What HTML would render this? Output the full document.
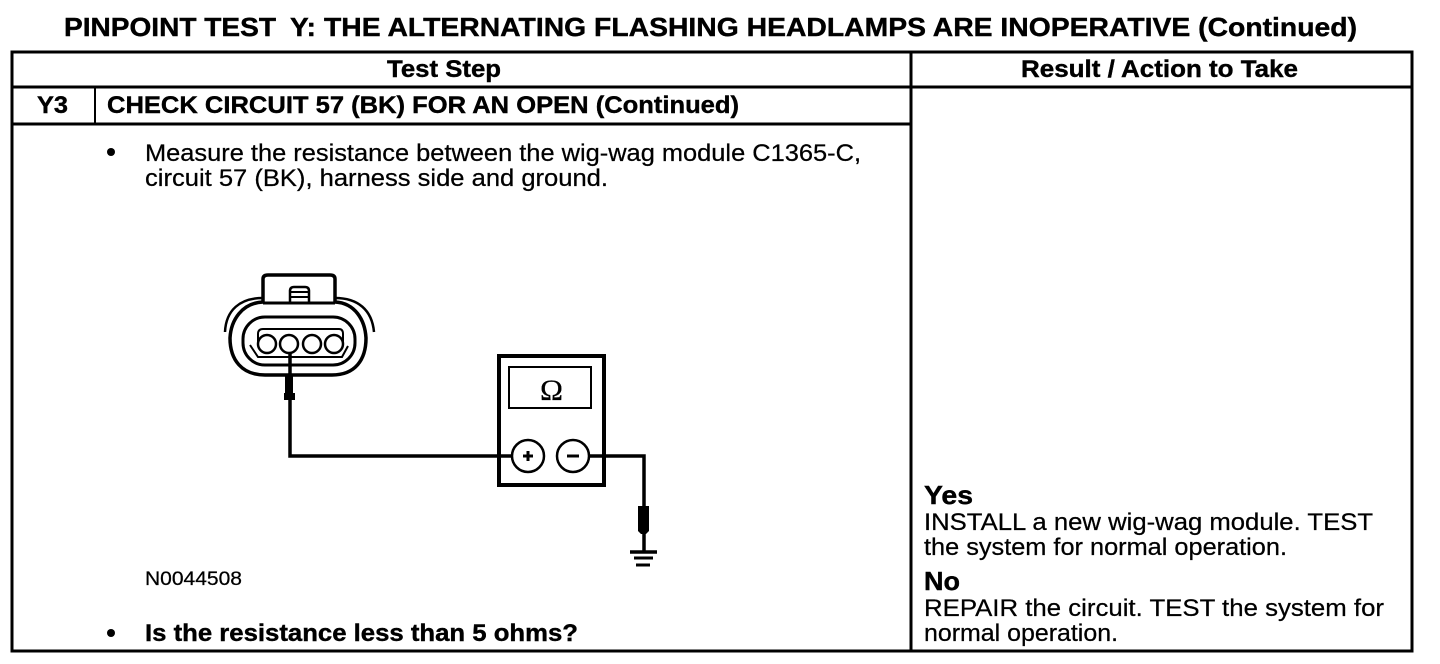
<!DOCTYPE html>
<html><head><meta charset="utf-8"><style>
html,body{margin:0;padding:0;background:#fff;width:1440px;height:664px;overflow:hidden}
svg{display:block}
text{font-family:"Liberation Sans",sans-serif;fill:#000;stroke:#000;stroke-width:.25}
.b{font-weight:bold;font-size:24px;stroke-width:.4}
.n{font-size:24px}
</style></head><body>
<svg width="1440" height="664" viewBox="0 0 1440 664" xmlns="http://www.w3.org/2000/svg">
<text class="b" x="64" y="36" style="font-size:26px" textLength="212" lengthAdjust="spacingAndGlyphs">PINPOINT TEST</text>
<text class="b" x="290" y="36" style="font-size:26px" textLength="26" lengthAdjust="spacingAndGlyphs">Y:</text>
<text class="b" x="324" y="36" style="font-size:26px" textLength="1033" lengthAdjust="spacingAndGlyphs">THE ALTERNATING FLASHING HEADLAMPS ARE INOPERATIVE (Continued)</text>
<g fill="none" stroke="#000">
<rect x="12" y="52" width="1400" height="599" stroke-width="3"/>
<path d="M12 87H1412M12 124H911" stroke-width="3"/>
<path d="M911 52V651" stroke-width="3"/>
<path d="M95 87V124" stroke-width="2"/>
</g>
<text class="b" x="387" y="77" textLength="114" lengthAdjust="spacingAndGlyphs">Test Step</text>
<text class="b" x="1021" y="77" textLength="277" lengthAdjust="spacingAndGlyphs">Result / Action to Take</text>
<text class="b" x="37" y="113" textLength="31" lengthAdjust="spacingAndGlyphs">Y3</text>
<text class="b" x="107" y="113" textLength="632" lengthAdjust="spacingAndGlyphs">CHECK CIRCUIT 57 (BK) FOR AN OPEN (Continued)</text>
<circle cx="111" cy="152" r="4"/>
<text class="n" x="145" y="161" textLength="716" lengthAdjust="spacingAndGlyphs">Measure the resistance between the wig-wag module C1365-C,</text>
<text class="n" x="145" y="186" textLength="463" lengthAdjust="spacingAndGlyphs">circuit 57 (BK), harness side and ground.</text>
<text x="145" y="585" style="font-size:19px" textLength="97" lengthAdjust="spacingAndGlyphs">N0044508</text>
<circle cx="111" cy="633" r="4"/>
<text class="b" x="145" y="641" textLength="433" lengthAdjust="spacingAndGlyphs">Is the resistance less than 5 ohms?</text>
<text class="b" x="924" y="504" style="font-size:26px" textLength="49" lengthAdjust="spacingAndGlyphs">Yes</text>
<text class="n" x="924" y="530" textLength="449" lengthAdjust="spacingAndGlyphs">INSTALL a new wig-wag module. TEST</text>
<text class="n" x="924" y="555" textLength="363" lengthAdjust="spacingAndGlyphs">the system for normal operation.</text>
<text class="b" x="924" y="590" style="font-size:26px" textLength="36" lengthAdjust="spacingAndGlyphs">No</text>
<text class="n" x="924" y="616" textLength="460" lengthAdjust="spacingAndGlyphs">REPAIR the circuit. TEST the system for</text>
<text class="n" x="924" y="641" textLength="194" lengthAdjust="spacingAndGlyphs">normal operation.</text>

<!-- connector -->
<g fill="none" stroke="#000">
<path d="M263 303V279Q263 275 268 275H330Q335 275 335 279V303" stroke-width="3.5"/>
<path d="M263 303H335" stroke-width="3"/>
<path d="M290 303V291Q290 287 294 287H305Q309 287 309 291V303" stroke-width="2.5"/>
<path d="M291 292H308M291 297H308" stroke-width="2"/>
<path d="M263 302C242 303 231 320 230 338C230 360 242 375 265 375H332C355 375 366 360 366 338C365 320 355 303 335 302" stroke-width="3.5"/>
<path d="M263 298C240 298 226 310 225 332" stroke-width="2.5"/>
<path d="M335 298C358 298 372 310 374 332" stroke-width="2.5"/>
<rect x="243" y="317" width="112" height="48" rx="22" stroke-width="3"/>
<path d="M258 344V334Q258 329 263 329H339Q343 329 343 334V344" stroke-width="2"/>
<path d="M250 345L258 357H342L348 346" stroke-width="2"/>
<g fill="#fff" stroke-width="2.5">
<circle cx="267" cy="344" r="9"/><circle cx="289" cy="344" r="9"/><circle cx="312" cy="344" r="9"/><circle cx="334" cy="344" r="9"/>
</g>
<path d="M290 353V456H512" stroke-width="3.5"/>
</g>
<path d="M285 375H293V393H295V400H284V393H285Z" fill="#000"/>

<!-- meter -->
<g fill="none" stroke="#000">
<rect x="499" y="356" width="105" height="129" stroke-width="4"/>
<rect x="509" y="367" width="82" height="41" stroke-width="2"/>
<circle cx="528" cy="456" r="16" stroke-width="2.5" fill="#fff"/>
<circle cx="573" cy="456" r="16" stroke-width="2.5" fill="#fff"/>
<path d="M589 456H644V553" stroke-width="3.5"/>
<path d="M630 552H657" stroke-width="3.5"/>
<path d="M634 558H653" stroke-width="3"/>
<path d="M636 565H650" stroke-width="3"/>
</g>
<path d="M638 506H649V531L646 534H641L638 531Z" fill="#000"/>
<path d="M523 456H533M528 451V461" stroke="#000" stroke-width="3"/>
<path d="M567 456H579" stroke="#000" stroke-width="3"/>
<text x="540" y="400" style="font-size:30px;font-family:'Liberation Serif',serif" textLength="23" lengthAdjust="spacingAndGlyphs">Ω</text>
</svg>
</body></html>
